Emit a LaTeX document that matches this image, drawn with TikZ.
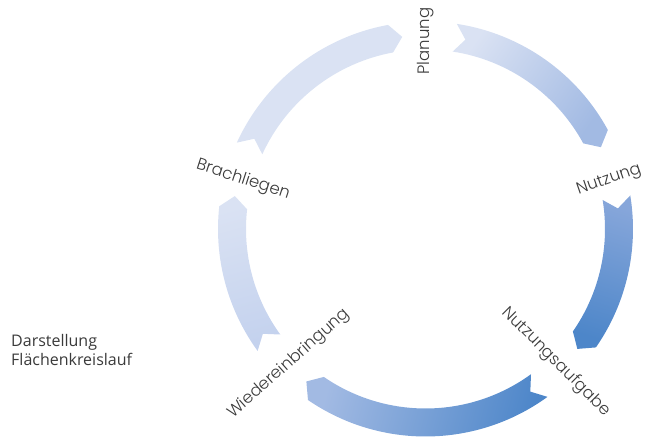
\documentclass[tikz,border=0pt]{standalone}
\usepackage{fontspec}
\setmainfont{Open Sans}
\newfontfamily\cyclefont{Poppins Light}
\definecolor{paleblue}{HTML}{DAE2F3}
\definecolor{lightblue}{HTML}{C4D2EE}
\definecolor{midblue}{HTML}{A2BAE3}
\definecolor{steelblue}{HTML}{86A6DA}
\definecolor{deepblue}{HTML}{4D86C9}
\definecolor{labelgray}{HTML}{3A3A3A}
\begin{document}
\begin{tikzpicture}[x=1pt,y=1pt,
    lbl/.style={font=\cyclefont\fontsize{16.5}{18}\selectfont, text=labelgray, inner sep=0pt}]
    \useasboundingbox (0,0) rectangle (646,438);
    \coordinate (m) at (425.5,209);
    % ring of arrows, clockwise: tail angle / head angle / colours / shading angle
    \begin{scope}[shift={(m)}]
        \foreach \t/\h/\ca/\cb/\sa in {81.3/28.5/paleblue/midblue/55,
                9.3/-34.8/steelblue/deepblue/-17,
                -54/-124.5/midblue/deepblue/75,
                216/173.7/paleblue/lightblue/15,
                155.4/100.4/paleblue/paleblue/0}
            \shade[left color=\ca, right color=\cb, shading angle=\sa]
                (\t:207.5) arc[start angle=\t, end angle=\h, radius=207.5]
                -- ({\h-3.5}:193.5) -- (\h:179.5)
                arc[start angle=\h, end angle=\t, radius=179.5]
                -- ({\t-3.2}:193.5) -- cycle;
    \end{scope}
    % labels in the gaps
    \node[lbl, rotate=90] (planung) at (426,397) {Planung};
    \node[lbl, rotate=19] (nutzung) at (609,258) {Nutzung};
    \node[lbl, rotate=-45] (aufgabe) at (556,76) {Nutzungsaufgabe};
    \node[lbl, rotate=41.5] (wieder) at (289,74) {Wiedereinbringung};
    \node[lbl, rotate=-18] (brach) at (243,258) {Brachliegen};
    \node[anchor=north west, align=left, inner sep=0pt, text=labelgray,
        font=\fontsize{16}{18.5}\selectfont] (titel) at (11,103.5) {Darstellung\\Flächenkreislauf};
\end{tikzpicture}
\end{document}
